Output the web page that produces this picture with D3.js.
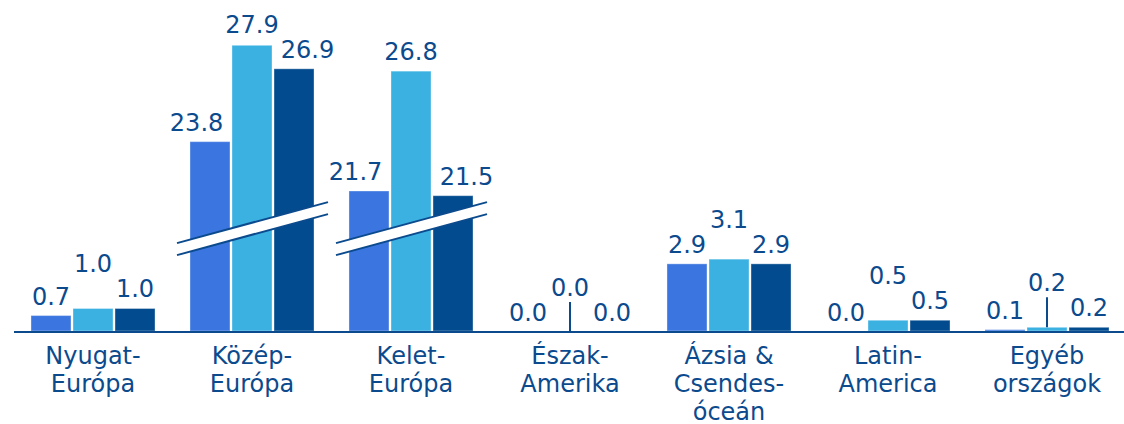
<!DOCTYPE html>
<html>
<head>
<meta charset="utf-8">
<script src="https://cdn.jsdelivr.net/npm/d3@7"></script>
<style>
    body { margin: 0; background: #fff; }
    svg { display: block; }
</style>
</head>
<body>
<main></main>
<script>
const categories = ["Nyugat-\nEurópa", "Közép-\nEurópa", "Kelet-\nEurópa", "Észak-\nAmerika", "Ázsia &\nCsendes-\nóceán", "Latin-\nAmerica", "Egyéb\nországok"];
const seriesNames = ["s1", "s2", "s3"];
const series1 = [0.7, 23.8, 21.7, 0.0, 2.9, 0.0, 0.1];
const series2 = [1.0, 27.9, 26.8, 0.0, 3.1, 0.5, 0.2];
const series3 = [1.0, 26.9, 21.5, 0.0, 2.9, 0.5, 0.2];
const colors = ["#3b76e0", "#3bb1e2", "#024b8e"];

const svgSize = { width: 1124, height: 424 };
const baseY = 332;
const textColor = "#0b4a8d";
const fontFamily = "'DejaVu Sans', sans-serif";
const breakThreshold = 10;   // values above this get a broken bar
const breakOffset = 15.7;    // units cut out of the broken bars
const breakMid = 4.4;        // where the break band sits (in scale units)

const createCanvas = () => {
    return d3.select("main")
            .append("svg")
            .attr("width", svgSize.width)
            .attr("height", svgSize.height)
            .attr("font-family", fontFamily);
};

const defineScales = () => {
    const xScale = d3.scaleBand()
                    .domain(categories)
                    .range([13.5, 1126.5])
                    .paddingInner(0.22)
                    .paddingOuter(0.11);

    const xSub = d3.scaleBand()
                    .domain(seriesNames)
                    .range([0, xScale.bandwidth()])
                    .paddingInner(0.048);

    const yScale = d3.scaleLinear()
                    .domain([0, 12.17])
                    .range([baseY, 46]);

    return { xScale, xSub, yScale };
};

const shown = (v) => v > breakThreshold ? v - breakOffset : v;

const buildRows = (scales) => {
    const all = [series1, series2, series3];
    const rows = [];
    categories.forEach((c, i) => {
        all.forEach((s, j) => {
            const v = s[i];
            rows.push({
                cat: c, ci: i, si: j, value: v,
                x: scales.xScale(c) + scales.xSub(seriesNames[j]),
                top: scales.yScale(shown(v))
            });
        });
    });
    return rows;
};

const createBars = (svg, rows, scales) => {
    svg.append("g")
        .selectAll("rect")
        .data(rows)
        .enter()
        .append("rect")
        .attr("x", (d) => d.x)
        .attr("y", (d) => d.top)
        .attr("width", scales.xSub.bandwidth())
        .attr("height", (d) => Math.max(0, baseY - 1 - d.top))
        .attr("fill", (d) => colors[d.si])
        .attr("stroke", "#ffffff")
        .attr("stroke-opacity", 0.35)
        .attr("stroke-width", 1);
};

const createBreaks = (svg, scales) => {
    const broken = categories.filter((c, i) => series1[i] > breakThreshold);
    const slope = -41 / 151;
    const half = 6;
    broken.forEach((c) => {
        const x0 = scales.xScale(c) - 13;
        const x1 = scales.xScale(c) + scales.xScale.bandwidth() + 14;
        const xm = (x0 + x1) / 2;
        const ym = scales.yScale(breakMid);
        const yAt = (x) => ym + (x - xm) * slope;
        svg.append("path")
            .attr("d", `M${x0},${yAt(x0) - half}L${x1},${yAt(x1) - half}L${x1},${yAt(x1) + half}L${x0},${yAt(x0) + half}Z`)
            .attr("fill", "#ffffff");
        [-half, half].forEach((o) => {
            svg.append("line")
                .attr("x1", x0).attr("y1", yAt(x0) + o)
                .attr("x2", x1).attr("y2", yAt(x1) + o)
                .attr("stroke", textColor)
                .attr("stroke-width", 2);
        });
    });
};

const createAxis = (svg, scales) => {
    const axis = svg.append("g")
        .attr("transform", `translate(0, ${baseY})`)
        .call(d3.axisBottom(scales.xScale).tickSize(0).tickFormat(""));
    axis.select(".domain").remove();
    axis.attr("font-family", fontFamily);
    axis.append("line")
        .attr("x1", 14).attr("x2", svgSize.width)
        .attr("stroke", textColor)
        .attr("stroke-width", 2);

    axis.selectAll(".tick")
        .each(function (c) {
            const t = d3.select(this).append("text")
                .attr("text-anchor", "middle")
                .attr("fill", textColor)
                .attr("font-family", fontFamily)
                .attr("font-size", 24);
            c.split("\n").forEach((line, k) => {
                t.append("tspan")
                    .attr("x", 0)
                    .attr("y", 32 + k * 28)
                    .text(line);
            });
        });
};

const createLabels = (svg, rows, scales) => {
    const capH = 17;
    const gap = 11;
    const half = scales.xSub.bandwidth() / 2;
    const step = scales.xSub.step();
    rows.forEach((d) => { d.ly = d.top - gap; d.lx = d.x + half; });

    const labels = svg.append("g")
        .selectAll("text")
        .data(rows)
        .enter()
        .append("text")
        .attr("text-anchor", "middle")
        .attr("fill", textColor)
        .attr("font-family", fontFamily)
        .attr("font-size", 24)
        .text((d) => d.value.toFixed(1))
        .each(function (d) { d.w = this.getComputedTextLength(); });

    categories.forEach((c, i) => {
        const grp = rows.filter((r) => r.ci === i);
        const mid = grp[1];
        // push outer labels sideways when they are wider than the bar pitch
        [grp[0], grp[2]].forEach((r, k) => {
            const push = Math.max(0, (r.w + mid.w) / 2 + 2 - step);
            r.lx += k === 0 ? -push : push;
        });
        // lift the middle label above its neighbours when they would collide
        const nbTop = d3.min([grp[0], grp[2]], (r) => r.ly - capH);
        if (mid.ly > nbTop - 8) {
            mid.ly = nbTop - 8;
            mid.lifted = true;
        }
    });

    labels.attr("x", (d) => d.lx)
          .attr("y", (d) => d.ly);

    // pointer line for tiny bars whose label sits high
    svg.append("g")
        .selectAll("line")
        .data(rows.filter((d) => d.lifted && d.value < 0.3))
        .enter()
        .append("line")
        .attr("x1", (d) => d.lx)
        .attr("x2", (d) => d.lx)
        .attr("y1", (d) => d.ly + 6)
        .attr("y2", (d) => d.top)
        .attr("stroke", textColor)
        .attr("stroke-width", 2);
};

const driver = () => {
    const svg = createCanvas();
    const scales = defineScales();
    const rows = buildRows(scales);
    createBars(svg, rows, scales);
    createBreaks(svg, scales);
    createAxis(svg, scales);
    createLabels(svg, rows, scales);
};

driver();
</script>
</body>
</html>
